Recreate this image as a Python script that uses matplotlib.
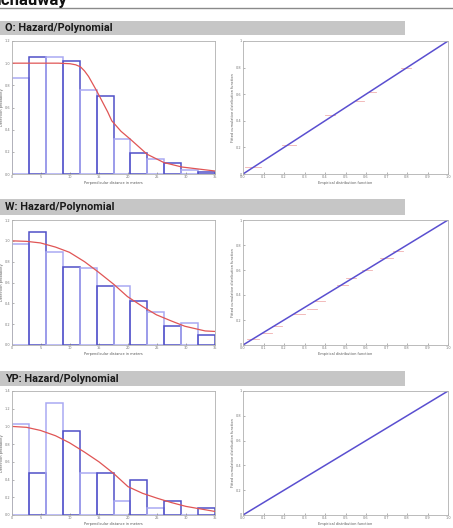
"""Ichauway detection function fits: histogram + P-P plot per species."""
import matplotlib
matplotlib.use("Agg")
import matplotlib.pyplot as plt
import numpy as np

# bin heights (12 bins over 0-35 m)
bin_edges = np.linspace(0, 35, 13)
o_heights = [0.87, 1.057, 1.057, 1.024, 0.755, 0.704, 0.317, 0.187, 0.133, 0.10, 0.036, 0.021]
w_heights = [0.968, 1.083, 0.89, 0.75, 0.744, 0.57, 0.57, 0.426, 0.314, 0.18, 0.21, 0.10]
yp_heights = [1.026, 0.476, 1.266, 0.951, 0.476, 0.476, 0.157, 0.397, 0.079, 0.157, 0.0, 0.079]

# fitted detection curves (hazard/polynomial), read at a few distances
o_curve_x = [0, 8, 10, 11, 11.8, 12.5, 13.2, 14.6, 15.5, 16.5, 17.2, 18.8, 20.4, 23.3, 26.2, 29.3, 35]
o_curve_y = [1.0, 1.0, 0.995, 0.985, 0.967, 0.93, 0.88, 0.75, 0.66, 0.56, 0.48, 0.385, 0.314, 0.178, 0.103, 0.063, 0.027]
w_curve_x = [0, 2.5, 4.9, 7.5, 9.9, 12.5, 14.9, 17.6, 19.9, 22.5, 24.9, 27.5, 29.8, 33.3, 35]
w_curve_y = [1.0, 0.995, 0.98, 0.94, 0.89, 0.80, 0.70, 0.58, 0.465, 0.37, 0.29, 0.23, 0.18, 0.135, 0.13]
yp_curve_x = [0, 2.5, 4.9, 7.5, 9.9, 12.5, 15, 17.5, 20, 22.5, 25, 27.5, 30, 35]
yp_curve_y = [1.0, 0.99, 0.955, 0.895, 0.816, 0.71, 0.60, 0.47, 0.32, 0.245, 0.19, 0.14, 0.097, 0.04]

# P-P plot: fitted line and faint empirical steps (x0, x1, y)
pp_line = [0, 1]
o_steps = [(0.01, 0.09, 0.053), (0.19, 0.26, 0.22), (0.40, 0.45, 0.44),
           (0.55, 0.59, 0.55), (0.61, 0.65, 0.62), (0.77, 0.82, 0.80)]
w_steps = [(0.02, 0.08, 0.048), (0.09, 0.14, 0.10), (0.14, 0.19, 0.15),
           (0.24, 0.30, 0.25), (0.31, 0.36, 0.29), (0.34, 0.40, 0.35),
           (0.46, 0.51, 0.48), (0.50, 0.55, 0.54), (0.58, 0.63, 0.60),
           (0.67, 0.73, 0.70), (0.73, 0.78, 0.75)]
yp_steps = []

species = ["O", "W", "YP"]
heights = [o_heights, w_heights, yp_heights]
curves = [(o_curve_x, o_curve_y), (w_curve_x, w_curve_y), (yp_curve_x, yp_curve_y)]
steps = [o_steps, w_steps, yp_steps]
ytops = [1.2, 1.2, 1.4]

W, H = 453, 528
fig = plt.figure(figsize=(W / 100, H / 100), dpi=100)

def fx(px):
    return px / W

def fy(py):
    return 1 - py / H

# page title, clipped at top as in the page screenshot
fig.text(fx(-3), fy(5), "Ichauway", fontsize=12, fontweight="bold",
         va="baseline", ha="left", color="#111111",
         family=["Roboto", "DejaVu Sans"])
fig.add_artist(plt.Line2D([0, 1], [fy(8), fy(8)], color="#8a8a8a", lw=1))

bands = [(21, 35), (199, 215), (371, 386)]
rows = [(41, 174), (220, 345), (391, 515)]

light = "#a9a9f2"
dark = "#5050c8"
red = "#e05555"

for i, sp in enumerate(species):
    b0, b1 = bands[i]
    fig.add_artist(plt.Rectangle((0, fy(b1)), fx(405), fy(b0) - fy(b1),
                                 color="#c6c6c6", lw=0))
    fig.text(fx(5), (fy(b0) + fy(b1)) / 2, f"{sp}: Hazard/Polynomial",
             fontsize=7.8, fontweight="bold", va="center", color="#1a1a1a",
             family=["Roboto", "DejaVu Sans"])

    top, bot = rows[i]
    # histogram panel
    ax = fig.add_axes([fx(12), fy(bot), fx(203), fy(top) - fy(bot)])
    cols = [light if k % 2 == 0 else dark for k in range(len(heights[i]))]
    ax.bar(bin_edges[:-1], heights[i], width=np.diff(bin_edges), align="edge",
           fill=False, edgecolor=cols, linewidth=1.1)
    cx, cy = curves[i]
    ax.plot(cx, cy, color=red, lw=0.9)
    ax.set_xlim(0, 35)
    ax.set_ylim(0, ytops[i])
    ax.set_xticks(np.arange(0, 36, 5))
    ax.set_yticks(np.arange(0, ytops[i] + 0.01, 0.2))
    ax.set_yticklabels([f"{v:.1f}" for v in np.arange(0, ytops[i] + 0.01, 0.2)])
    ax.set_xlabel("Perpendicular distance in meters", fontsize=2.5, labelpad=1, color="#555555")
    ax.set_ylabel("Detection probability", fontsize=2.5, labelpad=1, color="#555555")

    # P-P panel
    ax2 = fig.add_axes([fx(243), fy(bot), fx(205), fy(top) - fy(bot)])
    for x0, x1, y in steps[i]:
        ax2.plot([x0, x1], [y, y], color="#f0b0b0", lw=0.6)
    ax2.plot(pp_line, pp_line, color="#5a4fd0", lw=1.1)
    ax2.set_xlim(0, 1)
    ax2.set_ylim(0, 1)
    ax2.set_xticks(np.arange(0, 1.01, 0.1))
    ax2.set_xticklabels([f"{v:.1f}" for v in np.arange(0, 1.01, 0.1)])
    ax2.set_yticks([0, 0.2, 0.4, 0.6, 0.8, 1])
    ax2.set_yticklabels(["0", "0.2", "0.4", "0.6", "0.8", "1"])
    ax2.set_xlabel("Empirical distribution function", fontsize=2.5, labelpad=1, color="#555555")
    ax2.set_ylabel("Fitted cumulative distribution function", fontsize=2.5, labelpad=1, color="#555555")

    for a in (ax, ax2):
        a.tick_params(labelsize=2.5, length=1.5, width=0.4, direction="in",
                      colors="#777777", pad=1)
        for s in a.spines.values():
            s.set_color("#b0b0b0")
            s.set_linewidth(0.6)

fig.savefig("out.png", dpi=100)
